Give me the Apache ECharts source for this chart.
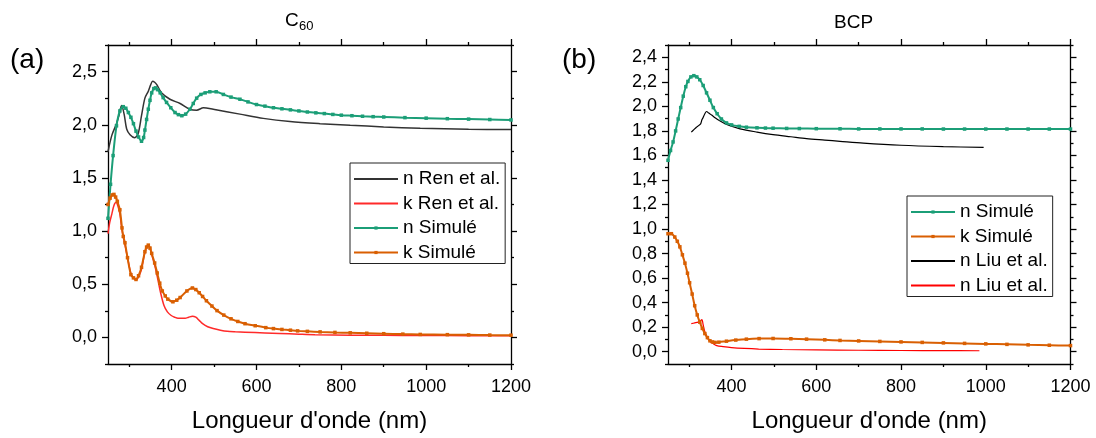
<!DOCTYPE html>
<html>
<head>
<meta charset="utf-8">
<script src="https://cdn.jsdelivr.net/npm/echarts@6/dist/echarts.min.js"></script>
<style>html,body{margin:0;padding:0;background:#fff}#c{width:1096px;height:438px}</style>
</head>
<body>
<div id="c"></div>
<script>
// ---------- data (wavelength nm, value) ----------
const c60_nRen = [[250,1.746],[259,1.90],[270,2.01],[276,2.09],[282,2.18],[288,2.10],[294,1.96],[302,1.906],[313,1.878],[321,1.915],[329,2.085],[337,2.25],[345,2.315],[350,2.37],[355,2.41],[360,2.40],[365,2.377],[376,2.30],[396,2.24],[420,2.20],[443,2.146],[459,2.137],[475,2.16],[498,2.146],[561,2.10],[616,2.06],[679,2.03],[750,2.01],[821,1.995],[900,1.98],[986,1.967],[1100,1.958],[1200,1.955]];
const c60_kRen = [[250,0.976],[254,1.08],[259,1.16],[264,1.24],[269,1.27],[273,1.24],[278,1.16],[283,1.01],[290,0.87],[296,0.75],[304,0.60],[310,0.56],[316,0.54],[322,0.57],[329,0.64],[337,0.80],[345,0.86],[349,0.84],[353,0.78],[360,0.68],[366,0.575],[374,0.42],[382,0.30],[390,0.24],[399,0.206],[407,0.19],[415,0.18],[432,0.18],[440,0.19],[449,0.20],[457,0.19],[465,0.16],[473,0.129],[485,0.10],[498,0.083],[515,0.068],[531,0.058],[550,0.053],[573,0.049],[620,0.042],[655,0.037],[700,0.03],[738,0.025],[821,0.0215],[900,0.02],[986,0.018],[1100,0.016],[1200,0.015]];
const c60_nSim = [[250,1.12],[256,1.44],[262,1.71],[270,1.99],[278,2.13],[286,2.17],[292,2.155],[298,2.115],[304,2.07],[310,2.01],[316,1.94],[322,1.885],[329,1.845],[334,1.88],[337,1.95],[341,2.05],[345,2.146],[349,2.23],[353,2.30],[358,2.34],[362,2.347],[367,2.33],[373,2.30],[380,2.255],[388,2.21],[398,2.16],[408,2.115],[416,2.095],[424,2.085],[433,2.10],[443,2.146],[451,2.20],[459,2.25],[469,2.285],[479,2.30],[490,2.31],[505,2.31],[522,2.285],[540,2.26],[561,2.24],[580,2.215],[600,2.19],[620,2.175],[640,2.16],[660,2.15],[680,2.14],[700,2.13],[720,2.12],[740,2.112],[760,2.105],[780,2.097],[800,2.09],[825,2.085],[850,2.08],[875,2.076],[900,2.073],[950,2.067],[1000,2.062],[1050,2.057],[1100,2.053],[1150,2.049],[1200,2.045]];
const c60_kSim = [[250,1.25],[255,1.31],[260,1.34],[264,1.345],[268,1.32],[272,1.28],[278,1.20],[283,1.03],[286,0.95],[290,0.89],[296,0.75],[304,0.59],[310,0.56],[316,0.545],[322,0.58],[329,0.66],[337,0.806],[341,0.85],[345,0.868],[349,0.84],[353,0.79],[360,0.70],[366,0.606],[372,0.51],[378,0.437],[385,0.39],[391,0.36],[403,0.335],[412,0.35],[420,0.375],[436,0.437],[449,0.465],[457,0.45],[465,0.42],[473,0.385],[482,0.345],[495,0.295],[507,0.252],[523,0.21],[540,0.175],[556,0.15],[573,0.129],[597,0.11],[622,0.092],[640,0.083],[660,0.075],[680,0.068],[697,0.0615],[720,0.057],[750,0.052],[785,0.047],[821,0.043],[860,0.039],[900,0.035],[945,0.031],[986,0.028],[1050,0.026],[1100,0.024],[1150,0.022],[1200,0.021]];

const bcp_nSim = [[250,1.56],[256,1.64],[262,1.71],[268,1.80],[274,1.897],[280,1.99],[286,2.083],[292,2.16],[297,2.203],[304,2.24],[311,2.25],[318,2.24],[325,2.217],[333,2.17],[341,2.11],[349,2.05],[357,1.99],[366,1.94],[376,1.897],[388,1.865],[400,1.849],[418,1.837],[435,1.83],[460,1.825],[480,1.823],[498,1.822],[530,1.82],[560,1.819],[600,1.818],[656,1.817],[700,1.816],[750,1.816],[800,1.816],[850,1.816],[900,1.815],[950,1.815],[1000,1.815],[1050,1.815],[1100,1.815],[1150,1.815],[1200,1.815]];
const bcp_kSim = [[250,0.962],[258,0.962],[266,0.935],[272,0.90],[278,0.855],[284,0.79],[290,0.722],[296,0.64],[301,0.562],[307,0.47],[313,0.375],[319,0.30],[325,0.241],[331,0.19],[337,0.148],[343,0.115],[349,0.089],[355,0.08],[361,0.076],[370,0.078],[388,0.086],[410,0.095],[435,0.1025],[465,0.107],[498,0.108],[540,0.106],[577,0.1025],[620,0.097],[656,0.092],[700,0.088],[750,0.084],[800,0.08],[850,0.076],[900,0.072],[950,0.068],[1000,0.064],[1050,0.06],[1100,0.056],[1150,0.053],[1200,0.05]];
const bcp_nLiu = [[305,1.79],[311,1.81],[317,1.83],[323,1.845],[327,1.857],[330,1.89],[333,1.91],[337,1.94],[341,1.958],[346,1.945],[353,1.929],[362,1.905],[372,1.883],[390,1.85],[420,1.817],[460,1.79],[498,1.769],[540,1.752],[577,1.737],[620,1.725],[656,1.715],[711,1.70],[800,1.683],[900,1.672],[995,1.665]];
const bcp_kLiu = [[305,0.229],[313,0.235],[321,0.241],[326,0.25],[330,0.262],[333,0.22],[337,0.163],[343,0.115],[349,0.083],[357,0.065],[365,0.05],[380,0.042],[400,0.034],[430,0.027],[464,0.022],[520,0.018],[600,0.015],[700,0.012],[800,0.01],[900,0.009],[985,0.008]];

// ---------- ticks ----------
const xMajor = [400, 600, 800, 1000, 1200];
const xMinor = [300, 500, 700, 900, 1100];
const yMajorA = [0, 0.5, 1.0, 1.5, 2.0, 2.5];
const yMinorA = [-0.25, 0.25, 0.75, 1.25, 1.75, 2.25, 2.75];
const yMajorB = [0, 0.2, 0.4, 0.6, 0.8, 1.0, 1.2, 1.4, 1.6, 1.8, 2.0, 2.2, 2.4];
const yMinorB = [-0.1, 0.1, 0.3, 0.5, 0.7, 0.9, 1.1, 1.3, 1.5, 1.7, 1.9, 2.1, 2.3, 2.5];

const legendA = ['n Ren et al.', 'k Ren et al.', 'n Simulé', 'k Simulé'];
const legendB = ['n Simulé', 'k Simulé', 'n Liu et al.', 'k Liu et al.'];
const noSymbolNames = ['n Ren et al.', 'k Ren et al.', 'n Liu et al.', 'k Liu et al.'];

const FONT = '"Liberation Sans", Arial, Helvetica, sans-serif';
const C_GREEN = '#1b9e77', C_ORANGE = '#d95f02', C_RED = '#ff2a2a', C_BLACK = '#333333';
const AXC = '#000';

function xAxesFor(grid) {
  const base = {type:'value', gridIndex:grid, min:250, max:1200, splitLine:{show:false}};
  const line = {show:true, onZero:false, lineStyle:{color:AXC, width:1.3}};
  return [
    Object.assign({}, base, {position:'bottom', axisLine:line,
      axisTick:{show:true, customValues:xMajor, length:6, lineStyle:{color:AXC, width:1.3}},
      axisLabel:{show:true, customValues:xMajor, fontSize:18, fontFamily:FONT, color:'#000', margin:14,
        formatter: v => String(v)},
      name:"Longueur d'onde (nm)", nameLocation:'middle', nameGap:45,
      nameTextStyle:{fontSize:24, fontFamily:FONT, color:'#000'}}),
    Object.assign({}, base, {position:'bottom', axisLine:{show:false, onZero:false},
      axisTick:{show:true, customValues:xMinor, length:3, lineStyle:{color:AXC, width:1.3}}, axisLabel:{show:false}}),
    Object.assign({}, base, {position:'top', axisLine:line,
      axisTick:{show:true, customValues:xMajor, length:6, lineStyle:{color:AXC, width:1.3}}, axisLabel:{show:false}}),
    Object.assign({}, base, {position:'top', axisLine:{show:false, onZero:false},
      axisTick:{show:true, customValues:xMinor, length:3, lineStyle:{color:AXC, width:1.3}}, axisLabel:{show:false}})
  ];
}
function yAxesFor(grid, min, max, major, minor) {
  const base = {type:'value', gridIndex:grid, min:min, max:max, splitLine:{show:false}};
  const line = {show:true, onZero:false, lineStyle:{color:AXC, width:1.3}};
  return [
    Object.assign({}, base, {position:'left', axisLine:line,
      axisTick:{show:true, customValues:major, length:6, lineStyle:{color:AXC, width:1.3}},
      axisLabel:{show:true, customValues:major, fontSize:18, fontFamily:FONT, color:'#000', margin:11,
        formatter:v => v.toFixed(1).replace('.', ',')}}),
    Object.assign({}, base, {position:'left', axisLine:{show:false, onZero:false},
      axisTick:{show:true, customValues:minor, length:3, lineStyle:{color:AXC, width:1.3}}, axisLabel:{show:false}}),
    Object.assign({}, base, {position:'right', axisLine:line,
      axisTick:{show:true, customValues:major, length:6, lineStyle:{color:AXC, width:1.3}}, axisLabel:{show:false}}),
    Object.assign({}, base, {position:'right', axisLine:{show:false, onZero:false},
      axisTick:{show:true, customValues:minor, length:3, lineStyle:{color:AXC, width:1.3}}, axisLabel:{show:false}})
  ];
}

function plain(name, data, color, width, xi, yi) {
  return {type:'line', name:name, data:data, xAxisIndex:xi, yAxisIndex:yi, symbol:'none', showSymbol:false,
    smooth:0.3, lineStyle:{color:color, width:width}, itemStyle:{color:color}, z:2};
}
function sim(name, data, color, xi, yi) {
  return {type:'line', name:name, data:data, xAxisIndex:xi, yAxisIndex:yi, symbol:'rect', symbolSize:3.5, showSymbol:true,
    smooth:0.3, lineStyle:{color:color, width:2}, itemStyle:{color:color}, z:3};
}
function legendItems(names) {
  return names.map(n => noSymbolNames.indexOf(n) >= 0
    ? {name:n, itemStyle:{opacity:0, borderWidth:0}}
    : {name:n});
}

const legendCommon = {orient:'vertical', itemWidth:44, itemHeight:4, itemGap:4.5, borderColor:'#222', borderWidth:1,
  backgroundColor:'#fff', borderRadius:0, selectedMode:false,
  textStyle:{fontSize:19, fontFamily:FONT, color:'#000', lineHeight:20}};

const option = {
  animation:false,
  backgroundColor:'#fff',
  grid:[{left:108, top:45, width:403, height:324}, {left:668, top:45, width:402.5, height:324}],
  xAxis: xAxesFor(0).concat(xAxesFor(1)),
  yAxis: yAxesFor(0, -0.25, 2.75, yMajorA, yMinorA).concat(yAxesFor(1, -0.1, 2.5, yMajorB, yMinorB)),
  legend:[
    Object.assign({}, legendCommon, {data:legendItems(legendA), left:350, top:163, padding:[6,5,1,3]}),
    Object.assign({}, legendCommon, {data:legendItems(legendB), left:907, top:196, padding:[6,5,1,3],
      formatter: n => n === 'k Liu et al.' ? 'n Liu et al.' : n})
  ],
  graphic:[
    {type:'text', left:10, top:46, style:{text:'(a)', fontSize:28, fontFamily:FONT, fill:'#000'}},
    {type:'text', left:562, top:46, style:{text:'(b)', fontSize:28, fontFamily:FONT, fill:'#000'}},
    {type:'text', left:285, top:11, style:{text:'C', fontSize:19, fontFamily:FONT, fill:'#000'}},
    {type:'text', left:299, top:20, style:{text:'60', fontSize:13, fontFamily:FONT, fill:'#000'}},
    {type:'text', left:834, top:13, style:{text:'BCP', fontSize:19, fontFamily:FONT, fill:'#000'}}
  ],
  series:[
    plain('n Ren et al.', c60_nRen, C_BLACK, 1.5, 0, 0),
    plain('k Ren et al.', c60_kRen, C_RED, 1.5, 0, 0),
    sim('n Simulé', c60_nSim, C_GREEN, 0, 0),
    sim('k Simulé', c60_kSim, C_ORANGE, 0, 0),
    sim('n Simulé', bcp_nSim, C_GREEN, 4, 4),
    sim('k Simulé', bcp_kSim, C_ORANGE, 4, 4),
    plain('n Liu et al.', bcp_nLiu, '#000', 1.2, 4, 4),
    plain('k Liu et al.', bcp_kLiu, '#ff0000', 1.2, 4, 4)
  ]
};
const chart = echarts.init(document.getElementById('c'), null, {renderer:'canvas'});
chart.setOption(option);
</script>
</body>
</html>
